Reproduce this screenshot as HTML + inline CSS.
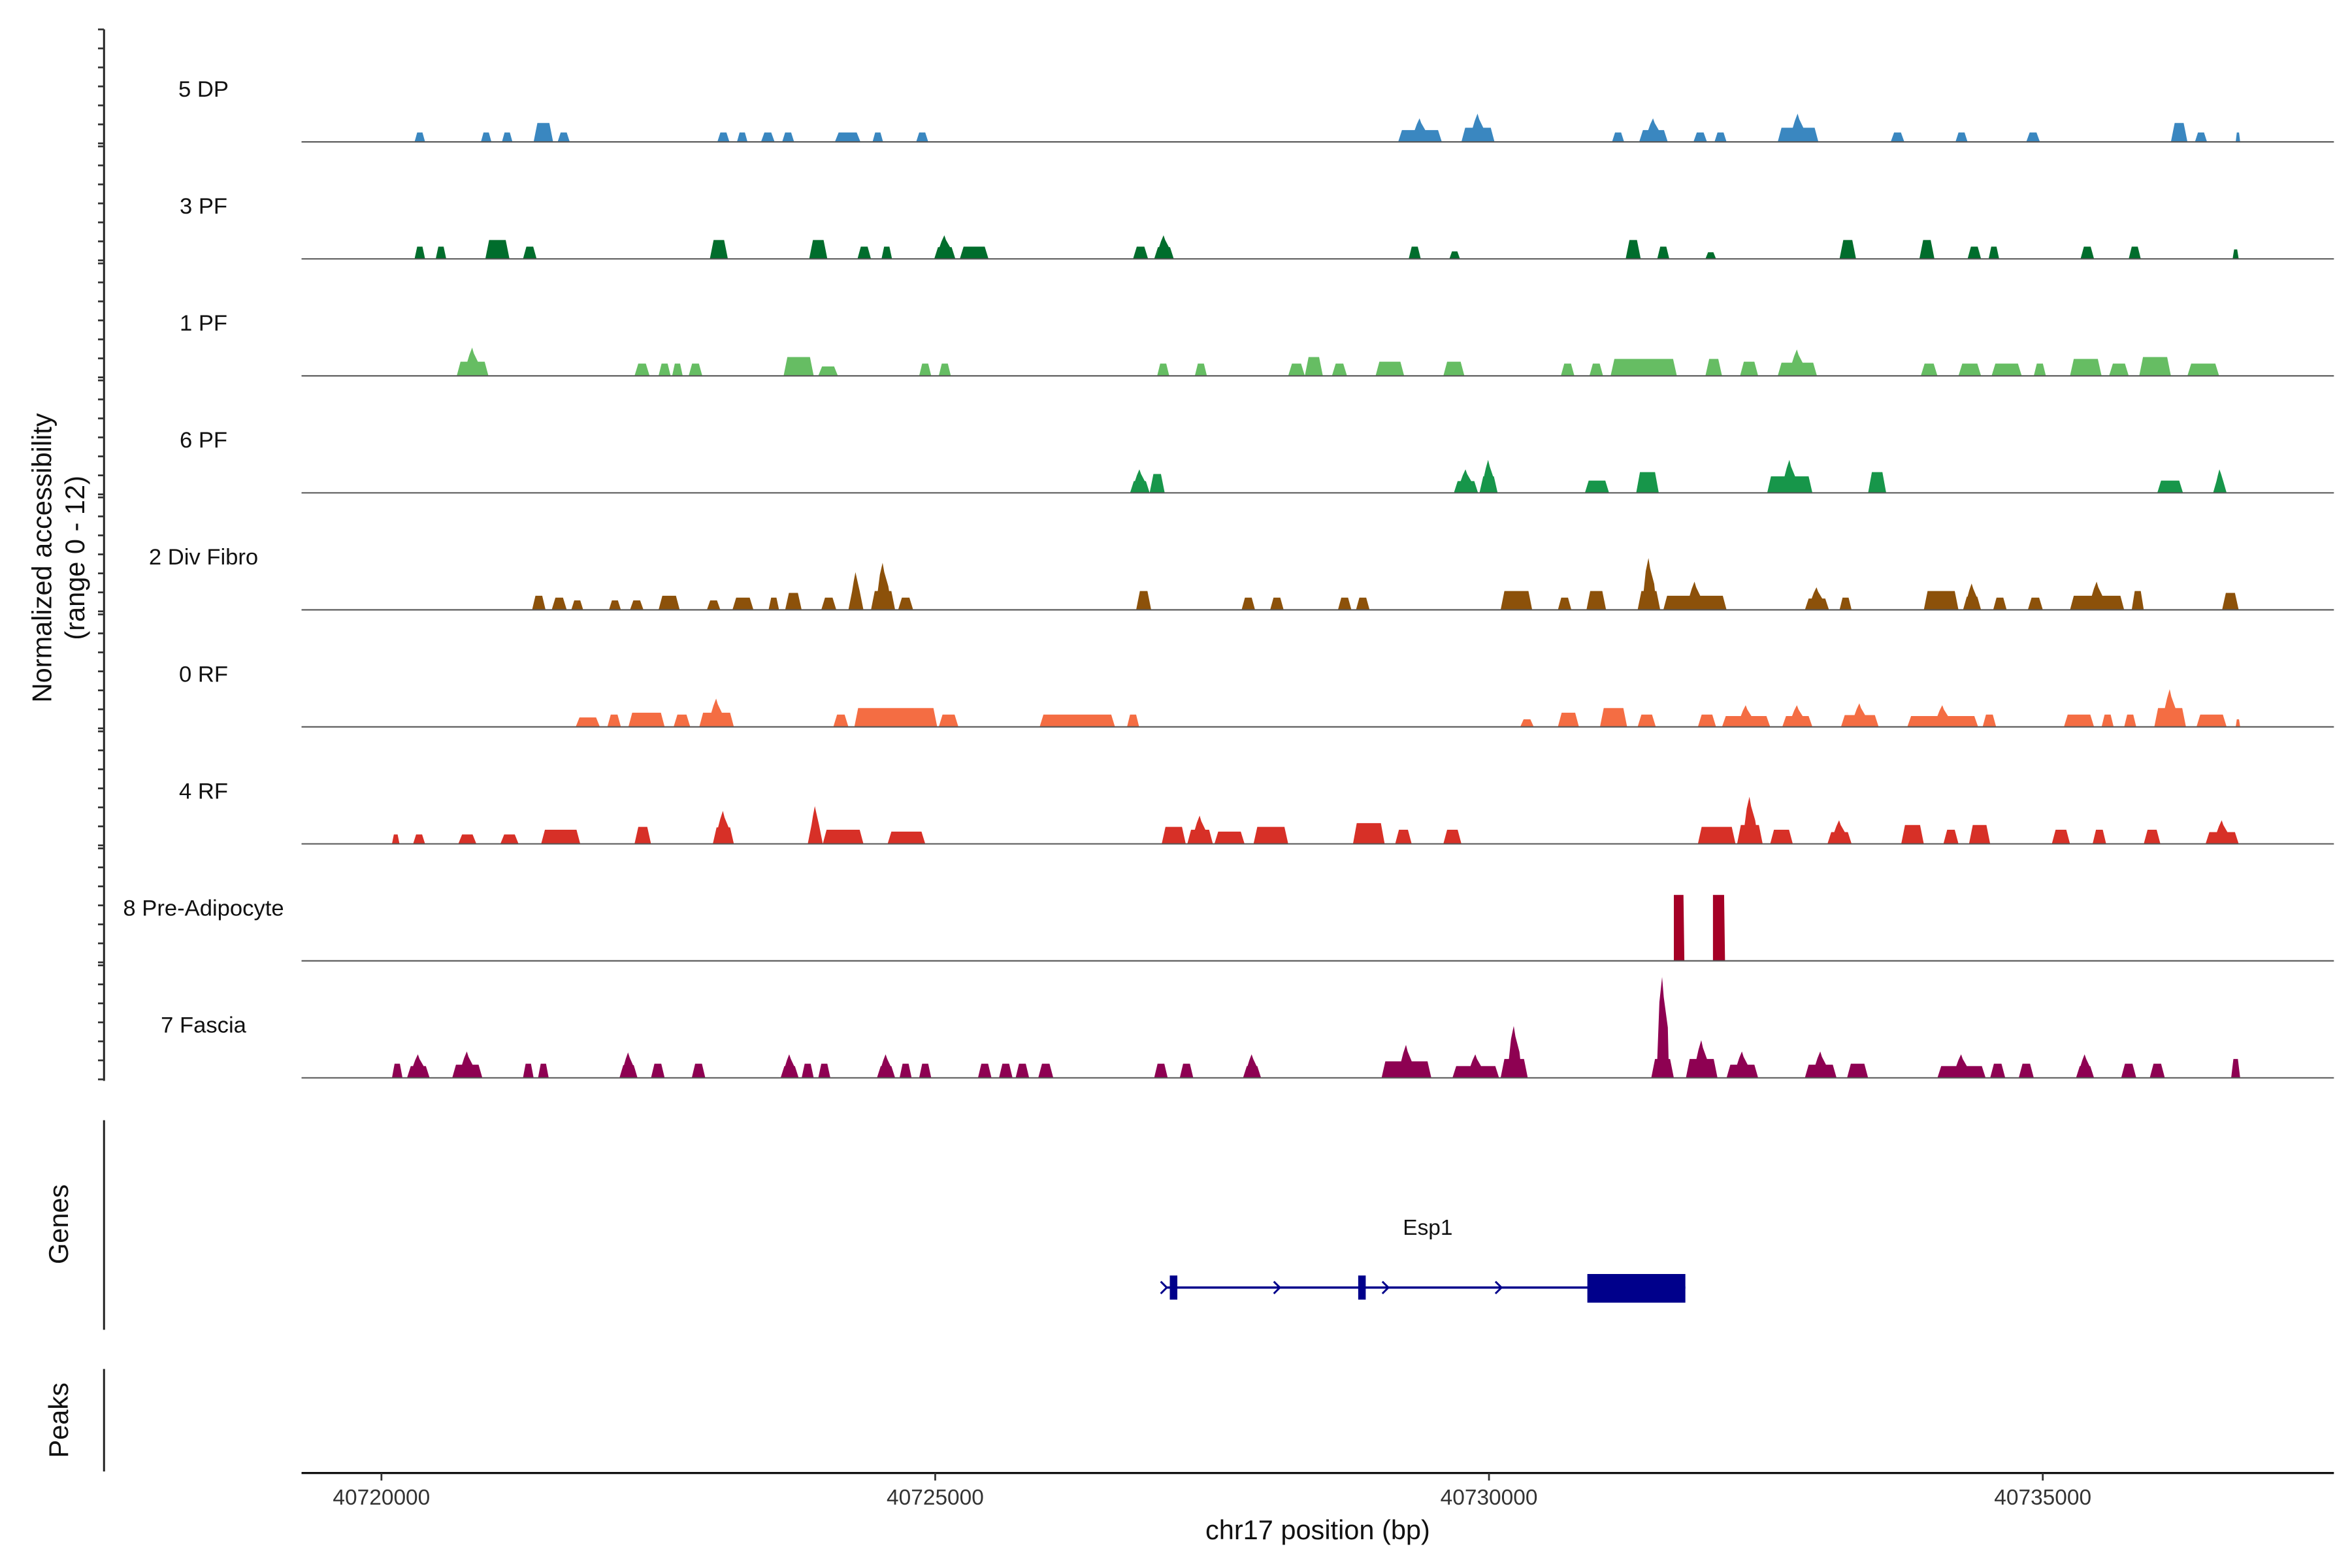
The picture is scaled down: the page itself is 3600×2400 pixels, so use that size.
<!DOCTYPE html>
<html><head><meta charset="utf-8"><style>
html,body{margin:0;padding:0;background:#fff;}
svg{display:block;font-family:"Liberation Sans",Arial,sans-serif;}
</style></head><body>
<svg id="chart" xmlns="http://www.w3.org/2000/svg" width="3600" height="2400" viewBox="0 0 1560 1040">
<rect width="1560" height="1040" fill="#fff"/>
<g id="tracks"></g>
<g id="axes"></g>
<g id="gene"></g>
</svg>
<script>
// Region start (bp) and data
const regionStart = 40720000;
const trackNames = ["5 DP","3 PF","1 PF","6 PF","2 Div Fibro","0 RF","4 RF","8 Pre-Adipocyte","7 Fascia"];
const trackColors = ["#3a87c0","#006d2c","#66bd63","#17964a","#8c510a","#f46d43","#d73027","#a50026","#8e0152"];
const xTicks = [40720000,40725000,40730000,40735000];
// peaks: [startOffsetBp, endOffsetBp, height(0-12)]
const peaks5DP = [[299,394,1],[898,993,1],[1088,1183,1],[1374,1550,2],[1591,1700,1],[3033,3142,1],[3210,3305,1],[3427,3550,1],[3618,3726,1],[4094,4325,1],[4434,4529,1],[4828,4937,1],[9180,9574,2.5],[9751,10050,3],[11111,11220,1],[11356,11614,2.5],[11846,11968,1],[12036,12145,1],[12607,12974,3],[13627,13750,1],[14212,14321,1],[14851,14974,1],[16157,16306,2],[16374,16483,1],[16742,16782,1]];
const peaks3PF = [[299,394,1.3],[490,585,1.3],[938,1156,2],[1278,1401,1.3],[2965,3128,2],[3862,4026,2],[4298,4420,1.3],[4515,4610,1.3],[4991,5182,2.5],[5222,5481,1.3],[6786,6922,1.3],[6977,7154,2.5],[9275,9384,1.3],[9642,9738,0.8],[11234,11370,2],[11519,11628,1.3],[11954,12050,0.7],[13165,13314,2],[13886,14022,2],[14321,14443,1.3],[14511,14606,1.3],[15341,15463,1.3],[15776,15885,1.3],[16714,16769,1]];
const peaks1PF = [[680,966,3],[2285,2421,1.3],[2502,2611,1.3],[2625,2720,1.3],[2774,2897,1.3],[3631,3903,2],[3944,4121,1],[4855,4964,1.3],[5032,5141,1.3],[7004,7113,1.3],[7344,7453,1.3],[8187,8337,1.3],[8337,8500,2],[8582,8718,1.3],[8976,9234,1.5],[9588,9778,1.5],[10649,10771,1.3],[10907,11030,1.3],[11098,11696,1.8],[11954,12104,1.8],[12267,12430,1.5],[12607,12961,2.8],[13899,14049,1.3],[14239,14443,1.3],[14538,14810,1.3],[14919,15028,1.3],[15246,15531,1.8],[15599,15776,1.3],[15871,16157,2],[16306,16592,1.3]];
const peaks6PF = [[6759,6936,2.5],[6936,7072,2],[9683,9901,2.5],[9914,10078,3.5],[10866,11084,1.3],[11329,11533,2.2],[12512,12920,3.5],[13423,13586,2.2],[16034,16266,1.3],[16538,16660,2.5]];
const peaks2DivFibro = [[1360,1482,1.5],[1537,1673,1.3],[1714,1822,1],[2054,2162,1],[2244,2366,1],[2502,2693,1.5],[2938,3060,1],[3169,3359,1.3],[3495,3590,1.3],[3645,3794,1.8],[3971,4107,1.3],[4216,4352,4],[4420,4638,5],[4665,4801,1.3],[6814,6950,2],[7766,7888,1.3],[8024,8146,1.3],[8636,8758,1.3],[8799,8922,1.3],[10105,10390,2],[10622,10744,1.3],[10880,11057,2],[11342,11546,5.5],[11574,12145,3],[12852,13070,2.4],[13165,13274,1.3],[13926,14239,2],[14280,14443,2.8],[14552,14674,1.3],[14865,15001,1.3],[15246,15735,3],[15803,15912,2],[16619,16769,1.8]];
const peaks0RF = [[1754,1972,1],[2040,2162,1.3],[2230,2557,1.5],[2638,2788,1.3],[2870,3182,3],[4080,4216,1.3],[4270,5018,2],[5032,5209,1.3],[5943,6623,1.3],[6732,6841,1.3],[10282,10404,0.8],[10622,10812,1.5],[11002,11247,2],[11342,11506,1.3],[11886,12050,1.3],[12104,12539,2.3],[12648,12920,2.3],[13178,13518,2.5],[13777,14416,2.3],[14457,14579,1.3],[15191,15463,1.3],[15531,15640,1.3],[15735,15844,1.3],[16007,16293,4],[16388,16660,1.3],[16742,16782,0.8]];
const peaks4RF = [[95,163,1],[286,394,1],[694,857,1],[1074,1238,1],[1442,1795,1.5],[2285,2434,1.8],[2992,3182,3.5],[3849,3985,4],[3985,4352,1.5],[4570,4910,1.3],[7045,7262,1.8],[7276,7507,3],[7521,7793,1.3],[7874,8187,1.8],[8772,9058,2.2],[9153,9302,1.5],[9588,9751,1.5],[11886,12226,1.8],[12240,12471,5],[12539,12743,1.5],[13056,13274,2.5],[13722,13926,2],[14103,14239,1.5],[14334,14525,2],[15082,15246,1.5],[15450,15572,1.5],[15912,16062,1.5],[16470,16769,2.5]];
const peaks8PreAd = [[11669,11764,7],[12022,12131,7]];
const peaks7Fascia = [[95,190,1.5],[231,435,2.5],[639,911,2.8],[1278,1374,1.5],[1414,1510,1.5],[2149,2312,2.7],[2434,2557,1.5],[2802,2924,1.5],[3604,3767,2.5],[3794,3903,1.5],[3944,4053,1.5],[4474,4638,2.5],[4678,4787,1.5],[4855,4964,1.5],[5386,5508,1.5],[5576,5698,1.5],[5726,5848,1.5],[5930,6066,1.5],[6977,7099,1.5],[7208,7330,1.5],[7779,7942,2.5],[9030,9479,3.5],[9670,10091,2.5],[10105,10350,5.5],[11465,11669,10.7],[11778,12063,4],[12145,12430,2.8],[12852,13138,2.8],[13233,13423,1.5],[14049,14484,2.5],[14525,14661,1.5],[14783,14919,1.5],[15300,15463,2.5],[15708,15844,1.5],[15966,16102,1.5],[16701,16782,2]];
const allPeaks = [peaks5DP,peaks3PF,peaks1PF,peaks6PF,peaks2DivFibro,peaks0RF,peaks4RF,peaks8PreAd,peaks7Fascia];
// Gene model (bp)
const geneName = "Esp1";
const geneSpan = [40727077, 40731773];
const geneExons = [[40727118,40727186],[40728819,40728887],[40730888,40731773]];
const geneArrows = [40727077,40728098,40729078,40730099];

const NS="http://www.w3.org/2000/svg";
const X0=253, PX_PER_BP=367.3/5000;
function xScale(bp){return X0+(bp-regionStart)*PX_PER_BP;}
const TRACK_TOP=16.5, TRACK_H=77.6, MAXH=12, HPX=75;
function yScale(v){return v/MAXH*HPX;}
function mk(tag,attrs,parent){const e=document.createElementNS(NS,tag);for(const k in attrs)e.setAttribute(k,attrs[k]);parent.appendChild(e);return e;}
const gT=document.getElementById('tracks'), gA=document.getElementById('axes'), gG=document.getElementById('gene');

trackNames.forEach((name,i)=>{
  const base=TRACK_TOP+TRACK_H*(i+1);
  const g=mk('g',{},gT);
  
  
  const lab=mk('text',{x:135,y:base-30,'text-anchor':'middle','font-size':15,fill:'#111'},g);
  lab.textContent=name;
  
  
  const rectMode = allPeaks[i].length<=2;
  allPeaks[i].forEach(p=>{
    const x0=xScale(regionStart+p[0]), x1=xScale(regionStart+p[1]);
    const H=yScale(p[2]), w=x1-x0, s=Math.min(2.5,w*0.25);
    let pts;
    if(rectMode){
      pts=[[x0,base],[x0,base-H],[x1-0.6,base-H],[x1,base]];
    } else if(p[2]>2.2){
      const xc=(x0+x1)/2, hs=Math.min(H*0.5,yScale(2));
      const bw=Math.min(3.5,w*0.25);
      pts=[[x0,base],[x0+s,base-hs],[xc-bw,base-hs],[xc-bw*0.6,base-H*0.75],[xc-0.3,base-H],[xc+0.8,base-H*0.8],[xc+bw,base-H*0.5],[xc+bw+0.5,base-hs],[x1-s,base-hs],[x1,base]];
    } else {
      pts=[[x0,base],[x0+s,base-H],[x1-s,base-H],[x1,base]];
    }
    const poly=mk('polygon',{points:pts.map(q=>q[0].toFixed(2)+','+q[1].toFixed(2)).join(' '),fill:trackColors[i]},g);
    
    
  });
  const bl=mk('line',{x1:200,x2:1548,y1:base,y2:base,stroke:'#555','stroke-width':0.9},g);
  
  
});

// left y axis
const yAx=mk('line',{x1:69,x2:69,y1:TRACK_TOP+3,y2:TRACK_TOP+TRACK_H*9+2,stroke:'#222','stroke-width':1.3},gA);


for(let i=0;i<9;i++){
  for(let k=0;k<7;k++){
    const y=TRACK_TOP+3+TRACK_H*i+k*12.6;
    const t=mk('line',{x1:65,x2:69,y1:y,y2:y,stroke:'#333','stroke-width':1.2},gA);
    
    
  }
}
const yt=mk('text',{transform:'translate(34,370) rotate(-90)','text-anchor':'middle','font-size':18,fill:'#111'},gA);


const t1=mk('tspan',{x:0,dy:0},yt); t1.textContent='Normalized accessibility';
const t2=mk('tspan',{x:0,dy:22},yt); t2.textContent='(range 0 - 12)';

// genes & peaks axis lines
[[743,882,'Genes',812,'genes-axis'],[908,976,'Peaks',942,'peaks-axis']].forEach(a=>{
  const l=mk('line',{x1:69,x2:69,y1:a[0],y2:a[1],stroke:'#222','stroke-width':1.3},gA);
  
  
  const tx=mk('text',{transform:'translate(45,'+a[3]+') rotate(-90)','text-anchor':'middle','font-size':18,fill:'#111'},gA);
  tx.textContent=a[2];
  
  
});

// x axis
const xAx=mk('line',{x1:200,x2:1548,y1:977,y2:977,stroke:'#111','stroke-width':1.4},gA);


xTicks.forEach(v=>{
  const x=xScale(v);
  const t=mk('line',{x1:x,x2:x,y1:977,y2:982,stroke:'#333','stroke-width':1.2},gA);
  
  
  const l=mk('text',{x:x,y:998,'text-anchor':'middle','font-size':14.5,fill:'#333'},gA);
  l.textContent=String(v);
  
  
});
const xt=mk('text',{x:874,y:1021,'text-anchor':'middle','font-size':18,fill:'#111'},gA);
xt.textContent='chr17 position (bp)';



// gene model
const gy=854;
const gl=mk('line',{x1:xScale(geneSpan[0]),x2:xScale(geneSpan[1]),y1:gy,y2:gy,stroke:'#00008b','stroke-width':1.5},gG);


geneExons.forEach((e,i)=>{
  const big=i===geneExons.length-1;
  const r=mk('rect',{x:xScale(e[0]),y:big?845:846,width:xScale(e[1])-xScale(e[0]),height:big?19:16,fill:'#00008b'},gG);
  
  
});
geneArrows.forEach(v=>{
  const x=xScale(v);
  const a=mk('polyline',{points:(x-3)+','+(gy-4)+' '+(x+1)+','+gy+' '+(x-3)+','+(gy+4),fill:'none',stroke:'#00008b','stroke-width':1.3},gG);
  
  
});
const gn=mk('text',{x:947,y:819,'text-anchor':'middle','font-size':14.5,fill:'#111'},gG);
gn.textContent=geneName;


</script>
</body></html>
